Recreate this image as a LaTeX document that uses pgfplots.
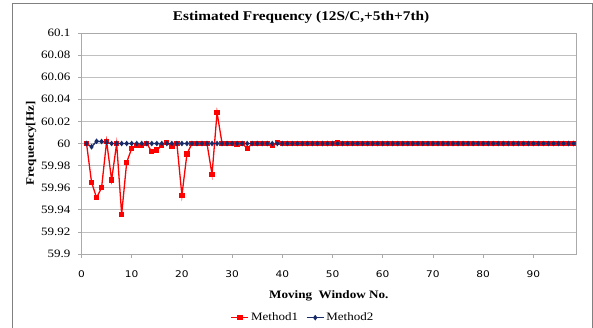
\documentclass[border=0pt]{standalone}
\usepackage{fontspec}
\setmainfont{Liberation Serif}[FakeStretch=1.15]
\newfontfamily\ticksans{DejaVu Sans}[FakeStretch=1.15]
\usepackage{pgfplots}
\pgfplotsset{compat=1.18}
\definecolor{mred}{RGB}{255,0,0}
\definecolor{mnavy}{RGB}{24,42,104}
\definecolor{framegray}{RGB}{128,128,128}
\definecolor{gridgray}{RGB}{192,192,192}
\definecolor{axisgray}{RGB}{170,170,170}

% Estimated frequency per moving window
\pgfplotstableread{
x m1 m2
1 60.000 60.000
2 59.965 59.997
3 59.951 60.002
4 59.960 60.0018
5 60.002 60.001
6 59.967 60.000
7 60.000 60.000
8 59.936 60.000
9 59.983 60.000
10 59.9955 60.000
11 59.998 60.000
12 59.998 60.000
13 60.000 60.000
14 59.9925 60.000
15 59.994 60.000
16 59.998 60.000
17 60.001 60.000
18 59.997 60.000
19 60.000 60.000
20 59.953 60.000
21 59.9905 60.000
22 60.000 60.000
23 60.000 60.000
24 60.000 60.000
25 60.000 60.000
26 59.972 60.000
27 60.028 60.000
28 60.000 60.000
29 60.000 60.000
30 60.000 60.000
31 59.9995 60.000
32 60.000 60.000
33 59.9955 60.000
34 60.000 60.000
35 60.000 60.000
36 60.000 60.000
37 60.000 60.000
38 59.998 60.000
39 60.001 60.000
40 60.000 60.000
41 60.000 60.000
42 60.000 60.000
43 60.000 60.000
44 60.000 60.000
45 60.000 60.000
46 60.000 60.000
47 60.000 60.000
48 60.000 60.000
49 60.000 60.000
50 60.000 60.000
51 60.0005 60.000
52 60.000 60.000
53 60.000 60.000
54 60.000 60.000
55 60.000 60.000
56 60.000 60.000
57 60.000 60.000
58 60.000 60.000
59 60.000 60.000
60 60.000 60.000
61 60.000 60.000
62 60.000 60.000
63 60.000 60.000
64 60.000 60.000
65 60.000 60.000
66 60.000 60.000
67 60.000 60.000
68 60.000 60.000
69 60.000 60.000
70 60.000 60.000
71 60.000 60.000
72 60.000 60.000
73 60.000 60.000
74 60.000 60.000
75 60.000 60.000
76 60.000 60.000
77 60.000 60.000
78 60.000 60.000
79 60.000 60.000
80 60.000 60.000
81 60.000 60.000
82 60.000 60.000
83 60.000 60.000
84 60.000 60.000
85 60.000 60.000
86 60.000 60.000
87 60.000 60.000
88 60.000 60.000
89 60.000 60.000
90 60.000 60.000
91 60.000 60.000
92 60.000 60.000
93 60.000 60.000
94 60.000 60.000
95 60.000 60.000
96 60.000 60.000
97 60.000 60.000
98 60.000 60.000
}\freqdata

\begin{document}
\begin{tikzpicture}[x=1pt,y=1pt]
\useasboundingbox (0,0) rectangle (593,327);
% chart area border
\draw[framegray, line width=1pt] (12.3,-10) -- (12.3,323.7) -- (592,323.7) -- (592,-10);
\begin{axis}[
  at={(81.5pt,73pt)}, anchor=south west,
  scale only axis, width=494.5pt, height=221pt,
  xmin=0, xmax=98.5, ymin=59.9, ymax=60.1,
  xtick={0,10,...,90},
  ytick={59.9,59.92,59.94,59.96,59.98,60,60.02,60.04,60.06,60.08,60.1},
  yticklabels={59.9,59.92,59.94,59.96,59.98,60,60.02,60.04,60.06,60.08,60.1},
  ymajorgrids,
  major grid style={gridgray, line width=0.8pt},
  axis line style={axisgray, line width=0.8pt},
  tick style={axisgray, line width=0.8pt},
  tick align=outside, major tick length=3.5pt,
  xtick pos=left, ytick pos=left,
  /pgf/number format/assume math mode=true,
  yticklabel style={font=\fontsize{11.3}{13}\selectfont, xshift=-4pt},
  xticklabel style={font=\ticksans\fontsize{9.2}{11}\selectfont, yshift=-10pt},
  title={Estimated Frequency (12S/C,+5th+7th)},
  title style={at={(axis description cs:0.444,1.045)}, anchor=center,
    font=\bfseries\fontsize{13.3}{15}\selectfont},
  xlabel={Moving\ \ Window No.},
  xlabel style={at={(axis description cs:0.5,-0.19)}, anchor=center,
    font=\bfseries\fontsize{11.4}{13}\selectfont},
  ylabel={Frequency[Hz]},
  ylabel style={at={(axis description cs:-0.102,0.5)}, anchor=center, rotate=0,
    font=\bfseries\fontsize{11.4}{13}\selectfont},
  legend style={at={(axis description cs:0.448,-0.288)}, anchor=center,
    draw=none, fill=none, font=\fontsize{11.3}{13}\selectfont,
    /tikz/every even column/.append style={column sep=6pt}},
  legend columns=2,
  clip=false,
]
\addplot[mred, line width=1.3pt, mark=square*, mark size=2pt, mark options={solid}]
  table[x=x, y=m1] {\freqdata};
\addlegendentry{Method1}
\addplot[mnavy, line width=1.3pt, mark=diamond*, mark size=1.8pt, mark options={solid}]
  table[x=x, y=m2] {\freqdata};
\addlegendentry{Method2}
\end{axis}
\end{tikzpicture}
\end{document}
